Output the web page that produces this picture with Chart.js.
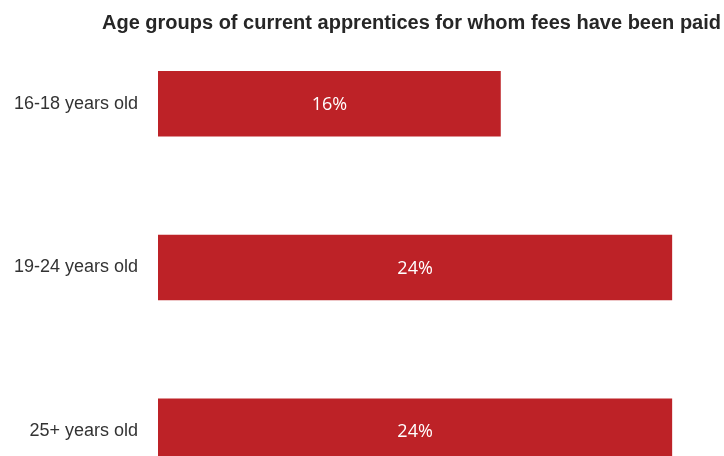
<!DOCTYPE html>
<html>
<head>
<meta charset="utf-8">
<script src="https://cdn.jsdelivr.net/npm/chart.js@4/dist/chart.umd.min.js"></script>
<style>
  html, body { margin: 0; padding: 0; background: #fff; overflow: hidden; }
  #wrap { position: relative; width: 724px; height: 513px; }
  #title {
    position: absolute; top: 12px; right: 3px;
    font: bold 20px/1 'Liberation Sans', Arial, sans-serif;
    color: #262626; white-space: nowrap; pointer-events: none;
  }
</style>
</head>
<body>
<div id="wrap">
  <div id="title">Age groups of current apprentices for whom fees have been paid</div>
  <canvas id="chart"></canvas>
</div>
<script>
/* ─── DATA ─── */
const ageGroups = ['16-18 years old', '19-24 years old', '25+ years old'];
const feeShare = [16, 24, 24];
const AXIS_MAX = 26;

const BAR_RED = '#BD2227';

/* ─── VALUE LABELS ─── */
const barLabels = {
  id: 'barLabels',
  afterDatasetsDraw(chart) {
    const { ctx } = chart;
    const meta = chart.getDatasetMeta(0);
    ctx.save();
    ctx.fillStyle = '#ffffff';
    ctx.font = "18px 'Open Sans', sans-serif";
    ctx.textAlign = 'center';
    ctx.textBaseline = 'middle';
    meta.data.forEach((bar, i) => {
      const cx = (bar.base + bar.x) / 2;
      ctx.fillText(feeShare[i] + '%', cx, bar.y + 1);
    });
    ctx.restore();
  }
};

new Chart(document.getElementById('chart'), {
  type: 'bar',
  data: {
    labels: ageGroups,
    datasets: [{
      data: feeShare,
      backgroundColor: BAR_RED,
      borderWidth: 0,
      barPercentage: 0.8,
      categoryPercentage: 0.5
    }]
  },
  options: {
    indexAxis: 'y',
    responsive: true,
    maintainAspectRatio: false,
    animation: false,
    layout: { padding: { top: 22, right: 9, bottom: 0, left: 0 } },
    plugins: {
      legend: { display: false },
      tooltip: { enabled: false },
      title: { display: false }
    },
    scales: {
      x: {
        display: false,
        min: 0,
        max: AXIS_MAX
      },
      y: {
        grid: { display: false, drawTicks: false },
        border: { display: false },
        ticks: {
          color: '#333333',
          font: { family: "'Liberation Sans', Arial, sans-serif", size: 18 },
          padding: 20
        },
        afterFit(scale) {
          scale.width = 158;
          scale.paddingTop = 0;
          scale.paddingBottom = 0;
        }
      }
    }
  },
  plugins: [barLabels]
});
</script>
</body>
</html>
